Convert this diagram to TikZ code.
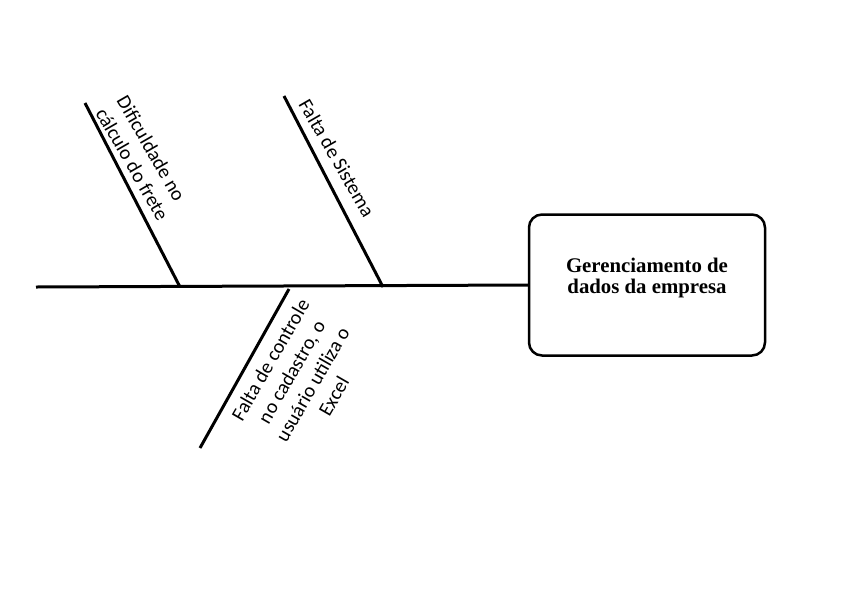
\documentclass[tikz,border=0pt]{standalone}
\usepackage{fontspec}
\setmainfont{Liberation Serif}
\newfontfamily\lblfont{Carlito}

\begin{document}
\begin{tikzpicture}[x=1pt,y=-1pt,
  bone/.style={black,line width=3pt},
  cause/.style={font=\lblfont\fontsize{20}{24.4}\selectfont,inner sep=0pt},
  effect/.style={draw=black,line width=2.5pt,rounded corners=13pt,minimum width=236pt,minimum height=141pt,
    font=\bfseries\fontsize{20.8}{21}\selectfont,align=center,text depth=18pt}]
\useasboundingbox[fill=white] (0,0) rectangle (841,614);
% effect box
\node[effect] (box) at (647,285) {Gerenciamento de\\dados da empresa};
% spine
\coordinate (tail) at (36,287);
\draw[bone] (tail) -- (box.west);
% causes above
\coordinate (b1top) at (85,103);
\coordinate (b1foot) at (180,287);
\coordinate (b2top) at (284,96);
\coordinate (b2foot) at (383,287);
\draw[bone] (b1top) -- (b1foot);
\draw[bone] (b2top) -- (b2foot);
\node[cause,rotate=-60,align=left] (c1) at (143,158) {Dificuldade no\\cálculo do frete};
\node[cause,rotate=-60] (c2) at (337,158) {Falta de Sistema};
% cause below
\coordinate (b3top) at (289,289);
\coordinate (b3foot) at (200,448);
\draw[bone] (b3top) -- (b3foot);
\node[cause,rotate=60,align=center] (c3) at (302,378) {Falta de controle\\no cadastro, o\\usuário utiliza o\\Excel};
\end{tikzpicture}
\end{document}
